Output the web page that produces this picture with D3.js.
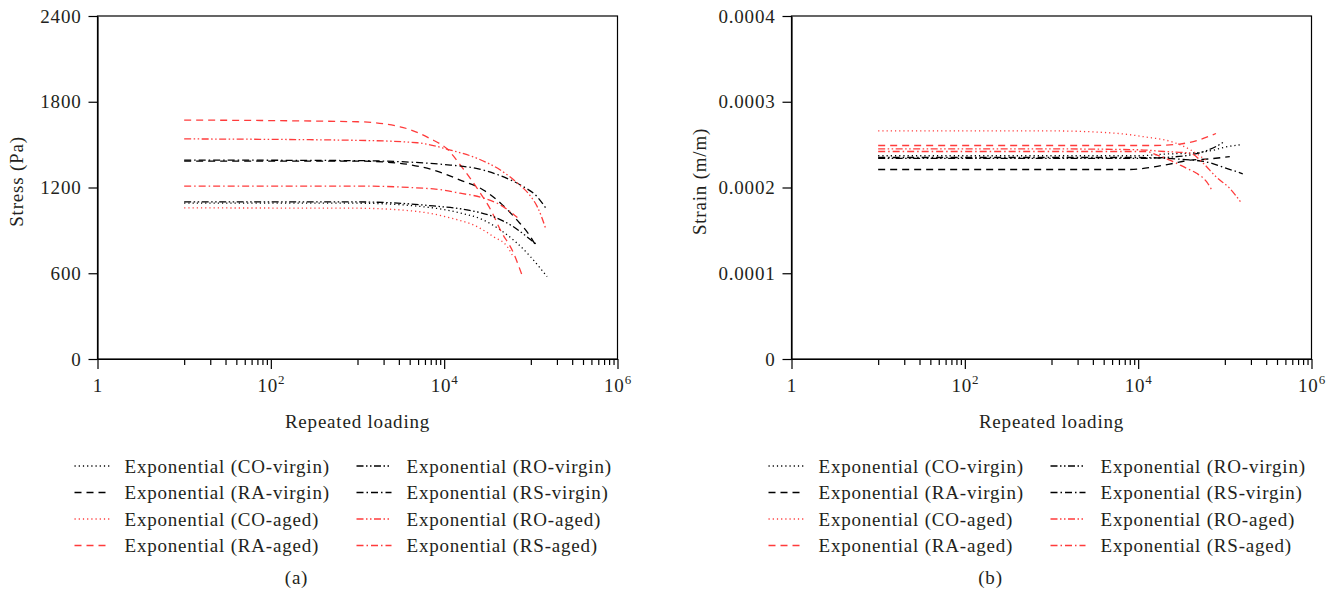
<!DOCTYPE html>
<html>
<head>
<meta charset="utf-8">
<script src="https://cdn.jsdelivr.net/npm/d3@7"></script>
<style>
  body { margin: 0; background: #fff; }
  svg text { font-family: "Liberation Serif", "Times New Roman", serif; fill: #231f20; letter-spacing: 0.8px; }
</style>
</head>
<body>
<div id="chart"></div>
<script>
// ---- data: [repeated loading, value] ----
// (a) stress, Pa
const stressCOvirgin = [[10,1090],[1000,1090],[7500,1057],[15300,1022],[28300,973],[44500,903],[69000,812],[99000,716],[154000,576]];
const stressRAvirgin = [[10,1385],[1000,1385],[3100,1369],[7500,1322],[15300,1252],[28300,1183],[44500,1092],[69000,973],[99000,856],[113000,798]];
const stressCOaged   = [[10,1057],[1000,1055],[4900,1032],[11800,987],[24000,926],[37000,856],[53500,786],[61000,728]];
const stressRAaged   = [[10,1672],[1000,1660],[3100,1625],[7000,1540],[10600,1474],[16600,1330],[24700,1183],[36000,1022],[44500,903],[63000,742],[79000,588]];
const stressROvirgin = [[10,1100],[1000,1099],[7500,1071],[18300,1043],[37000,996],[63000,925],[90000,856],[118000,798]];
const stressRSvirgin = [[10,1392],[1000,1388],[11800,1357],[28300,1322],[53000,1264],[82000,1206],[118000,1136],[154000,1043]];
const stressROaged   = [[10,1540],[1000,1530],[4900,1513],[11800,1462],[24000,1404],[44500,1322],[70000,1231],[99000,1140],[120000,1060],[147000,920]];
const stressRSaged   = [[10,1210],[1000,1210],[7500,1190],[15300,1160],[28300,1127],[44500,1078],[70000,990]];

// (b) strain, m/m
const strainCOvirgin = [[10,0.000237],[1000,0.000237],[10000,0.000237],[20000,0.000239],[40000,0.000240],[70000,0.000243],[100000,0.000247],[155000,0.000250]];
const strainRAvirgin = [[10,0.000221],[1000,0.000221],[8000,0.000221],[15000,0.000224],[25000,0.000228],[40000,0.000232],[60000,0.000233],[114000,0.000236]];
const strainCOaged   = [[10,0.000266],[1000,0.000266],[5000,0.0002636],[12000,0.000259],[25000,0.000253],[40000,0.000244],[60000,0.000232]];
const strainRAaged   = [[10,0.000249],[1000,0.000249],[15000,0.000249],[30000,0.0002507],[50000,0.0002554],[79000,0.000263]];
const strainROvirgin = [[10,0.000234],[1000,0.000234],[10000,0.000234],[20000,0.000235],[40000,0.000238],[60000,0.0002426],[80000,0.000248],[95000,0.0002525]];
const strainRSvirgin = [[10,0.000235],[1000,0.000235],[10000,0.000235],[30000,0.000233],[60000,0.000230],[100000,0.000223],[161000,0.000216]];
const strainROaged   = [[10,0.000245],[1000,0.000245],[10000,0.000244],[20000,0.000242],[40000,0.000240],[56000,0.0002286],[80000,0.000212],[113000,0.0001994],[155000,0.000182]];
const strainRSaged   = [[10,0.000242],[1000,0.000242],[12500,0.000242],[16300,0.000238],[23200,0.000232],[36100,0.0002224],[47200,0.0002166],[61500,0.0002068],[72700,0.000195]];

const seriesNames = ["CO-virgin", "RA-virgin", "CO-aged", "RA-aged", "RO-virgin", "RS-virgin", "RO-aged", "RS-aged"];
const stressTicks = [0, 600, 1200, 1800, 2400];
const strainTicks = [0, 0.0001, 0.0002, 0.0003, 0.0004];
const xMajorTicks = [1, 1e2, 1e4, 1e6];
const xMinorTicks = [10,20,30,40,50,60,70,80,90, 1000,2000,3000,4000,5000,6000,7000,8000,9000, 1e5,2e5,3e5,4e5,5e5,6e5,7e5,8e5,9e5];

const stressData = [stressCOvirgin, stressRAvirgin, stressCOaged, stressRAaged, stressROvirgin, stressRSvirgin, stressROaged, stressRSaged];
const strainData = [strainCOvirgin, strainRAvirgin, strainCOaged, strainRAaged, strainROvirgin, strainRSvirgin, strainROaged, strainRSaged];

// line look per series
const red = "#ff3b3b";
const dotted = "1.2,3", dashed = "7,5", dashDot = "7,3,1.5,3", dashDotDot = "7,2.5,1.5,2.5,1.5,2.5";
const styles = {
  "CO-virgin": { color: "#000", dash: dotted },
  "RA-virgin": { color: "#000", dash: dashed },
  "CO-aged":   { color: red,    dash: dotted },
  "RA-aged":   { color: red,    dash: dashed },
  "RO-virgin": { color: "#000", dash: dashDotDot },
  "RS-virgin": { color: "#000", dash: dashDot },
  "RO-aged":   { color: red,    dash: dashDotDot },
  "RS-aged":   { color: red,    dash: dashDot }
};

const width = 1341, height = 601;
const plotTop = 16, plotW = 520, plotH = 343;

const svg = d3.select("#chart").append("svg")
  .attr("width", width)
  .attr("height", height);

function drawPanel(left, yDomain, yTicks, yFormat, yTitle, titleX, data, tag) {
  const g = svg.append("g").attr("transform", `translate(${left},${plotTop})`);

  const x = d3.scaleLog().domain([1, 1e6]).range([0, plotW]);
  const y = d3.scaleLinear().domain(yDomain).range([plotH, 0]);

  // box
  g.append("rect")
    .attr("width", plotW).attr("height", plotH)
    .attr("fill", "none").attr("stroke", "#000").attr("stroke-width", 1.2);

  // y axis
  const yAxis = g.append("g")
    .call(d3.axisLeft(y).tickValues(yTicks).tickSize(9).tickSizeOuter(0).tickPadding(7).tickFormat(yFormat));
  yAxis.attr("font-size", 19).attr("font-family", null);
  yAxis.selectAll("line").attr("stroke-width", 1.2);
  yAxis.select(".domain").attr("stroke-width", 1.2);

  // x axis minor ticks
  const xMinor = g.append("g")
    .attr("transform", `translate(0,${plotH})`)
    .call(d3.axisBottom(x).tickValues(xMinorTicks).tickSize(6).tickSizeOuter(0).tickFormat(""));
  xMinor.selectAll("line").attr("stroke-width", 1.2);
  xMinor.select(".domain").attr("stroke-width", 1.2);

  // x axis major ticks, labels drawn with superscripts
  const xMajor = g.append("g")
    .attr("transform", `translate(0,${plotH})`)
    .call(d3.axisBottom(x).tickValues(xMajorTicks).tickSize(10).tickSizeOuter(0).tickFormat(""));
  xMajor.select(".domain").remove();
  xMajor.selectAll("line").attr("stroke-width", 1.2);
  xMajor.selectAll(".tick").each(function(d) {
    const t = d3.select(this).append("text")
      .attr("y", 33).attr("text-anchor", "middle").attr("font-size", 19);
    const p = Math.round(Math.log10(d));
    if (p === 0) {
      t.text("1");
    } else {
      t.append("tspan").text("10");
      t.append("tspan").attr("font-size", 13).attr("dy", -8).text(p);
    }
  });

  // axis titles
  g.append("text")
    .attr("x", plotW / 2).attr("y", plotH + 69)
    .attr("text-anchor", "middle").attr("font-size", 19)
    .text("Repeated loading");
  g.append("text")
    .attr("transform", `translate(${titleX - left},${plotH / 2 - 6}) rotate(-90)`)
    .attr("text-anchor", "middle").attr("font-size", 19)
    .text(yTitle);

  // curves
  const line = d3.line()
    .x(d => x(d[0]))
    .y(d => y(d[1]))
    .curve(d3.curveMonotoneX);

  g.selectAll("path.curve")
    .data(data)
    .join("path")
    .attr("class", "curve")
    .attr("d", line)
    .attr("fill", "none")
    .attr("stroke", (d, i) => styles[seriesNames[i]].color)
    .attr("stroke-width", 1.3)
    .attr("stroke-dasharray", (d, i) => styles[seriesNames[i]].dash);

  // legend, two columns of four
  const legend = g.append("g").attr("transform", `translate(0,${plotH})`);
  const items = legend.selectAll("g")
    .data(seriesNames)
    .join("g")
    .attr("transform", (d, i) => `translate(${i < 4 ? -23 : 259},${107 + (i % 4) * 26.5})`);
  items.append("line")
    .attr("x1", 0).attr("x2", 35)
    .attr("stroke", d => styles[d].color)
    .attr("stroke-width", 1.3)
    .attr("stroke-dasharray", d => styles[d].dash);
  items.append("text")
    .attr("x", 50).attr("dy", "0.35em").attr("font-size", 19)
    .text(d => `Exponential (${d})`);

  // panel tag
  svg.append("text")
    .attr("x", left + 199).attr("y", 584)
    .attr("text-anchor", "middle").attr("font-size", 19)
    .text(tag);
}

drawPanel(97.5, [0, 2400], stressTicks, d => d, "Stress (Pa)", 23, stressData, "(a)");
drawPanel(791.5, [0, 0.0004], strainTicks, d => d === 0 ? "0" : d.toFixed(4), "Strain (m/m)", 706, strainData, "(b)");
</script>
</body>
</html>
